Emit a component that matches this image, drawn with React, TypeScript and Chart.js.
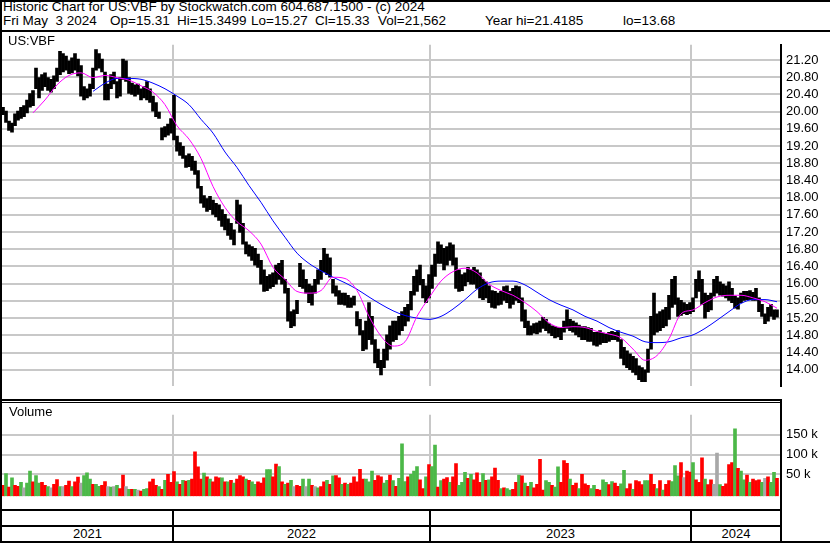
import React, { useEffect, useRef } from "react";
import { Chart, registerables } from "chart.js";

Chart.register(...registerables);

// ---------------- text ----------------
const TITLE = "Historic Chart for US:VBF by Stockwatch.com 604.687.1500 - (c) 2024";
const INFO_FIELDS = ["Fri May  3 2024", "Op=15.31", "Hi=15.3499", "Lo=15.27", "Cl=15.33", "Vol=21,562", "Year hi=21.4185", "lo=13.68"];
const SYMBOL = "US:VBF";
const VOLUME_TITLE = "Volume";
const YEARS = ["2021", "2022", "2023", "2024"];

// ---------------- time axis (chart-day index) ----------------
const YEAR_START_DAYS = [171, 428, 689];
const LAST_DAY = 779;
const SAMPLE_FIRST_DAY = 1;
const SAMPLE_STEP = 3;

// ---------------- axis ticks ----------------
const PRICE_TICKS = [14.0, 14.4, 14.8, 15.2, 15.6, 16.0, 16.4, 16.8, 17.2, 17.6, 18.0, 18.4, 18.8, 19.2, 19.6, 20.0, 20.4, 20.8, 21.2];
const VOLUME_TICKS = [50000, 100000, 150000];
const VOLUME_TICK_LABELS = ["50 k", "100 k", "150 k"];

// ---------------- price (3-day high / low) ----------------
const PRICE_HIGH = [
  20.10, 20.01, 19.78, 19.73, 19.95, 20.01, 20.10, 20.14, 20.27, 20.42,
  20.49, 21.01, 20.79, 20.86, 20.90, 20.79, 20.75, 20.83, 21.01, 21.40,
  21.35, 21.29, 21.18, 21.25, 21.35, 21.22, 21.07, 20.58, 20.53, 20.64,
  21.01, 21.44, 21.35, 21.22, 20.92, 20.64, 20.86, 20.92, 20.70, 20.79,
  21.22, 21.18, 20.79, 20.66, 20.62, 20.64, 20.53, 20.58, 20.70, 20.53,
  20.36, 20.21, 19.99, 19.62, 19.65, 19.71, 19.84, 20.38, 19.43, 19.28,
  19.19, 18.98, 19.02, 18.96, 18.85, 18.63, 18.26, 18.05, 17.98, 18.03,
  17.94, 17.87, 17.83, 17.72, 17.61, 17.51, 17.40, 17.25, 17.94, 17.83,
  17.40, 16.97, 16.90, 16.86, 16.82, 16.69, 16.54, 16.32, 16.17, 16.21,
  16.25, 16.43, 16.47, 16.54, 16.10, 15.89, 15.35, 15.39, 15.61, 16.47,
  16.32, 16.10, 15.99, 15.95, 16.10, 16.32, 16.54, 16.82, 16.69, 16.60,
  16.10, 15.95, 15.84, 15.78, 15.78, 15.73, 15.67, 15.71, 15.35, 15.17,
  14.91, 15.13, 15.56, 15.24, 14.70, 14.48, 14.22, 14.48, 14.81, 15.02,
  15.13, 15.13, 15.24, 15.35, 15.45, 15.52, 15.82, 16.17, 16.32, 16.43,
  16.10, 15.95, 16.21, 16.43, 16.69, 16.97, 16.90, 16.82, 16.86, 16.95,
  16.90, 16.60, 16.32, 16.21, 16.25, 16.38, 16.32, 16.38, 16.32, 16.25,
  16.10, 16.04, 15.95, 15.84, 15.82, 15.78, 15.82, 15.93, 15.95, 15.82,
  15.89, 15.95, 15.93, 15.67, 15.39, 15.13, 15.02, 15.07, 15.09, 15.13,
  15.22, 15.17, 15.07, 15.02, 15.00, 14.98, 14.96, 15.13, 15.39, 15.17,
  15.13, 15.09, 15.04, 15.00, 15.00, 14.98, 14.96, 14.87, 14.87, 14.91,
  14.85, 14.83, 14.87, 14.89, 14.87, 14.91, 14.70, 14.52, 14.44, 14.37,
  14.31, 14.26, 14.09, 14.05, 14.00, 14.48, 15.24, 15.78, 15.30, 15.35,
  15.39, 15.45, 15.73, 16.10, 16.17, 15.67, 15.61, 15.56, 15.52, 15.56,
  15.67, 16.10, 16.30, 16.10, 15.78, 15.73, 15.78, 16.10, 16.17, 16.04,
  15.99, 15.95, 16.04, 15.89, 15.71, 15.67, 15.78, 15.82, 15.82, 15.84,
  15.80, 15.89, 15.67, 15.52, 15.30, 15.45, 15.52, 15.39, 15.39
];
const PRICE_LOW = [
  19.93, 19.75, 19.56, 19.52, 19.67, 19.80, 19.84, 19.88, 19.97, 20.10,
  20.14, 20.53, 20.32, 20.49, 20.58, 20.49, 20.45, 20.53, 20.70, 20.86,
  20.92, 20.96, 20.88, 20.90, 20.96, 20.83, 20.36, 20.27, 20.32, 20.36,
  20.53, 20.96, 21.01, 20.92, 20.27, 20.27, 20.53, 20.64, 20.32, 20.36,
  20.75, 20.70, 20.42, 20.40, 20.36, 20.40, 20.27, 20.32, 20.27, 20.21,
  20.01, 19.88, 19.84, 19.34, 19.41, 19.45, 19.50, 19.34, 19.08, 18.98,
  18.91, 18.70, 18.72, 18.63, 18.54, 18.22, 17.87, 17.77, 17.68, 17.72,
  17.61, 17.55, 17.47, 17.33, 17.25, 17.12, 17.03, 16.90, 17.40, 17.19,
  16.92, 16.69, 16.64, 16.54, 16.43, 16.38, 15.99, 15.82, 15.84, 15.89,
  15.93, 15.99, 16.10, 15.99, 15.78, 15.13, 14.98, 15.02, 15.30, 15.93,
  15.89, 15.78, 15.56, 15.50, 15.78, 15.99, 16.10, 16.28, 16.21, 16.15,
  15.78, 15.71, 15.52, 15.52, 15.50, 15.45, 15.45, 15.50, 15.02, 14.81,
  14.44, 14.48, 14.70, 14.59, 14.16, 14.05, 13.88, 14.05, 14.22, 14.48,
  14.66, 14.70, 14.81, 14.91, 15.02, 15.13, 15.39, 15.73, 15.82, 15.97,
  15.67, 15.56, 15.67, 15.89, 16.17, 16.47, 16.47, 16.32, 16.43, 16.54,
  16.43, 15.89, 15.82, 15.84, 15.95, 16.04, 15.99, 15.99, 15.89, 15.67,
  15.63, 15.67, 15.56, 15.45, 15.43, 15.50, 15.52, 15.61, 15.56, 15.43,
  15.52, 15.61, 15.56, 15.13, 14.98, 14.81, 14.81, 14.85, 14.83, 14.87,
  14.96, 14.91, 14.85, 14.79, 14.74, 14.76, 14.70, 14.87, 14.96, 14.91,
  14.87, 14.81, 14.76, 14.70, 14.70, 14.66, 14.66, 14.57, 14.55, 14.59,
  14.63, 14.63, 14.66, 14.70, 14.70, 14.66, 14.26, 14.11, 14.05, 14.00,
  13.94, 13.88, 13.77, 13.72, 13.72, 13.94, 14.48, 14.81, 14.87, 14.91,
  14.98, 15.02, 15.17, 15.45, 15.52, 15.24, 15.26, 15.30, 15.28, 15.30,
  15.35, 15.67, 15.82, 15.52, 15.20, 15.35, 15.39, 15.71, 15.78, 15.73,
  15.71, 15.67, 15.61, 15.56, 15.43, 15.41, 15.56, 15.61, 15.63, 15.63,
  15.61, 15.61, 15.35, 15.24, 15.07, 15.13, 15.24, 15.17, 15.22
];

// ---------------- moving averages (every 12 days) ----------------
const MA_STEP = 12;
const MA_SHORT_FIRST_DAY = 31;
const MA_SHORT = [
  19.97, 20.27, 20.62, 20.84, 20.90, 20.79, 20.84, 20.79, 20.73, 20.60,
  20.45, 20.16, 19.67, 19.36, 18.91, 18.26, 17.77, 17.44, 17.23, 16.92,
  16.38, 16.10, 15.82, 15.78, 15.84, 16.15, 16.12, 15.84, 15.24, 14.78,
  14.55, 14.65, 15.24, 15.67, 16.06, 16.28, 16.36, 16.25, 15.99, 15.84,
  15.73, 15.56, 15.35, 15.09, 14.98, 15.00, 14.98, 14.89, 14.83, 14.74,
  14.48, 14.22, 14.33, 14.72, 15.30, 15.39, 15.56, 15.69, 15.73, 15.73,
  15.67, 15.58, 15.43
];
const MA_LONG_FIRST_DAY = 91;
const MA_LONG = [
  20.47, 20.66, 20.77, 20.77, 20.75, 20.66, 20.53, 20.36, 20.16, 19.82,
  19.50, 19.06, 18.70, 18.28, 17.89, 17.46, 17.08, 16.71, 16.47, 16.30,
  16.15, 16.02, 15.87, 15.69, 15.52, 15.37, 15.26, 15.20, 15.17, 15.24,
  15.41, 15.63, 15.87, 16.02, 16.06, 16.06, 15.97, 15.80, 15.63, 15.50,
  15.39, 15.24, 15.13, 14.98, 14.87, 14.78, 14.65, 14.63, 14.65, 14.74,
  14.81, 14.96, 15.15, 15.35, 15.54, 15.63, 15.63, 15.58
];

// ---------------- volume (thousands, 3-day samples) ----------------
const VOLUME_K = [
  22, 52, 18, 41, 22, 20, 30, 16, 28, 58,
  31, 47, 28, 30, 22, 19, 16, 25, 37, 19,
  19, 22, 33, 19, 31, 43, 28, 47, 54, 38,
  25, 25, 20, 22, 32, 19, 18, 19, 22, 14,
  48, 19, 12, 12, 12, 10, 8, 12, 14, 31,
  38, 22, 19, 12, 35, 50, 30, 57, 31, 25,
  35, 33, 35, 38, 107, 69, 38, 53, 44, 38,
  31, 44, 41, 41, 31, 31, 35, 28, 38, 47,
  44, 38, 35, 31, 25, 31, 28, 41, 62, 62,
  44, 76, 70, 31, 25, 28, 35, 19, 22, 20,
  38, 19, 38, 22, 19, 16, 19, 31, 35, 25,
  46, 47, 41, 25, 28, 25, 28, 44, 31, 63,
  38, 38, 31, 58, 35, 47, 44, 28, 35, 48,
  34, 20, 40, 127, 32, 44, 50, 58, 70, 36,
  14, 44, 75, 70, 124, 18, 34, 38, 42, 30,
  44, 77, 22, 30, 55, 40, 50, 36, 54, 30,
  52, 35, 36, 44, 66, 35, 14, 16, 14, 10,
  12, 30, 48, 46, 28, 20, 30, 16, 25, 88,
  10, 34, 30, 22, 18, 69, 30, 85, 78, 38,
  22, 28, 14, 50, 26, 22, 14, 22, 12, 10,
  36, 30, 24, 32, 28, 20, 26, 60, 14, 26,
  12, 34, 32, 24, 34, 34, 50, 25, 14, 34,
  10, 25, 34, 32, 72, 46, 80, 42, 58, 56,
  80, 36, 30, 92, 38, 24, 36, 25, 104, 24,
  20, 26, 75, 80, 165, 65, 58, 36, 48, 30,
  38, 34, 36, 30, 40, 44, 30, 55, 40
];
// r = down day, g = up day, n = unchanged
const VOLUME_DIR = [
  "rgrgrrgngg", "rggrrgnrrg", "nrrgrrnggg", "rggrrngngr", "rngrgnrggr",
  "rrgrgrrrgr", "grgrrrrgrg", "rrrgrgrgrr", "rgrggrrrgg", "rrgrgrgnrr",
  "gngrngrrgr", "grrgrgrrrr", "rgggrrrggr", "grgggrgggr", "rgrggrgrrg",
  "rrgggrgrrr", "grgrrrgrgg", "rrgrgrgrrr", "rggrggrrrg", "rrgrrrggrr",
  "ggrgrrggrr", "grrrggrrgr", "grrgggrnrr", "grrrgrrnng", "rrrrgrggrg",
  "rrrgnrggr"
].join("");

const PRICE_MIN = 13.617;
const PRICE_MAX = 21.552;
const VOLUME_MIN = -5200;
const VOLUME_MAX = 200600;

const FONT = "'Liberation Sans', Arial, Helvetica, sans-serif";
const GRID = "#c8c8c8";
const DIR_COLORS: Record<string, string> = { r: "#ff0000", g: "#4cb848", n: "#a8a8a8" };

const dayOf = (i: number) => SAMPLE_FIRST_DAY + i * SAMPLE_STEP;

function xScale() {
  return {
    type: "linear" as const,
    min: 0,
    max: LAST_DAY,
    offset: false,
    grid: { color: GRID, lineWidth: 2, drawTicks: false, offset: false },
    border: { display: false },
    ticks: { display: false },
    afterBuildTicks: (s: any) => {
      s.ticks = YEAR_START_DAYS.map((v) => ({ value: v }));
    },
    afterFit: (s: any) => {
      s.height = 0;
    },
  };
}

export default function App() {
  const priceRef = useRef<HTMLCanvasElement>(null);
  const volRef = useRef<HTMLCanvasElement>(null);

  useEffect(() => {
    document.body.style.margin = "0";
    Chart.defaults.font.family = FONT;
    Chart.defaults.font.size = 13;
    Chart.defaults.color = "#000";

    const priceChart = new Chart(priceRef.current as HTMLCanvasElement, {
      type: "bar",
      data: {
        datasets: [
          {
            type: "line",
            data: MA_SHORT.map((v, i) => ({ x: MA_SHORT_FIRST_DAY + i * MA_STEP, y: v })),
            borderColor: "#ff00ff",
            borderWidth: 1,
            pointRadius: 0,
            cubicInterpolationMode: "monotone",
            order: 0,
          } as any,
          {
            type: "line",
            data: MA_LONG.map((v, i) => ({ x: MA_LONG_FIRST_DAY + i * MA_STEP, y: v })),
            borderColor: "#0000ff",
            borderWidth: 1,
            pointRadius: 0,
            cubicInterpolationMode: "monotone",
            order: 0,
          } as any,
          {
            type: "bar",
            data: PRICE_HIGH.map((h, i) => ({ x: dayOf(i), y: [PRICE_LOW[i], h] })),
            backgroundColor: "#000000",
            barThickness: 3,
            order: 1,
          } as any,
        ],
      },
      options: {
        responsive: false,
        animation: false,
        events: [],
        layout: { padding: 0 },
        plugins: { legend: { display: false }, tooltip: { enabled: false } },
        scales: {
          x: xScale() as any,
          y: {
            type: "linear",
            position: "right",
            min: PRICE_MIN,
            max: PRICE_MAX,
            grid: { color: GRID, lineWidth: 2, drawTicks: false },
            border: { display: true, color: "#000", width: 2 },
            ticks: {
              padding: 5,
              color: "#000",
              font: { size: 13, family: FONT },
              callback: (v: any) => Number(v).toFixed(2),
            },
            afterBuildTicks: (s: any) => {
              s.ticks = PRICE_TICKS.map((v) => ({ value: v }));
            },
            afterFit: (s: any) => {
              s.width = 49;
            },
          } as any,
        },
      },
    });

    const volChart = new Chart(volRef.current as HTMLCanvasElement, {
      type: "bar",
      data: {
        datasets: [
          {
            data: VOLUME_K.map((v, i) => ({ x: dayOf(i), y: v * 1000 })),
            backgroundColor: VOLUME_K.map((_, i) => DIR_COLORS[VOLUME_DIR[i]] || DIR_COLORS.n),
            barThickness: 3,
            base: VOLUME_MIN,
          } as any,
        ],
      },
      options: {
        responsive: false,
        animation: false,
        events: [],
        layout: { padding: 0 },
        plugins: { legend: { display: false }, tooltip: { enabled: false } },
        scales: {
          x: xScale() as any,
          y: {
            type: "linear",
            position: "right",
            min: VOLUME_MIN,
            max: VOLUME_MAX,
            grid: { color: GRID, lineWidth: 2, drawTicks: false },
            border: { display: true, color: "#000", width: 2 },
            ticks: {
              padding: 5,
              color: "#000",
              font: { size: 13, family: FONT },
              callback: (v: any) => {
                const k = VOLUME_TICKS.indexOf(Number(v));
                return k >= 0 ? VOLUME_TICK_LABELS[k] : "";
              },
            },
            afterBuildTicks: (s: any) => {
              s.ticks = VOLUME_TICKS.map((v) => ({ value: v }));
            },
            afterFit: (s: any) => {
              s.width = 49;
            },
          } as any,
        },
      },
    });

    return () => {
      priceChart.destroy();
      volChart.destroy();
    };
  }, []);

  const infoX = [3, 110, 177, 251, 315, 378, 485, 623];
  const yearBounds = [2, 173, 430, 691, 781];
  const line = (left: number, top: number, width: number, height: number, key: string) => (
    <div key={key} style={{ position: "absolute", left, top, width, height, background: "#000" }} />
  );

  return (
    <div
      style={{
        position: "fixed",
        left: 0,
        top: 0,
        width: 830,
        height: 543,
        background: "#fff",
        fontFamily: FONT,
        fontSize: 13,
        color: "#000",
        overflow: "hidden",
      }}
    >
      <canvas ref={priceRef} width={828} height={367} style={{ position: "absolute", left: 2, top: 32 }} />
      <canvas ref={volRef} width={828} height={107} style={{ position: "absolute", left: 2, top: 402 }} />

      <div style={{ position: "absolute", left: 3, top: 0, fontSize: 13.5, lineHeight: "14px", whiteSpace: "pre" }}>{TITLE}</div>
      {INFO_FIELDS.map((t, i) => (
        <div
          key={"f" + i}
          style={{ position: "absolute", left: infoX[i], top: 14, fontSize: 13.5, lineHeight: "14px", whiteSpace: "pre" }}
        >
          {t}
        </div>
      ))}
      <div style={{ position: "absolute", left: 8, top: 34, lineHeight: "14px" }}>{SYMBOL}</div>
      <div style={{ position: "absolute", left: 9, top: 405, lineHeight: "14px" }}>{VOLUME_TITLE}</div>

      {YEARS.map((y, i) => (
        <div
          key={y}
          style={{
            position: "absolute",
            left: yearBounds[i],
            width: yearBounds[i + 1] - yearBounds[i],
            top: 527,
            lineHeight: "14px",
            textAlign: "center",
          }}
        >
          {y}
        </div>
      ))}

      {line(0, 0, 830, 2, "top")}
      {line(0, 30, 830, 2, "hdr")}
      {line(0, 0, 2, 543, "left")}
      {line(0, 399, 781, 2, "sep1")}
      {line(0, 402, 781, 1, "sep2")}
      {line(0, 509, 781, 2, "vb")}
      {line(0, 525, 781, 2, "yr")}
      {line(0, 541, 830, 2, "bottom")}
      {line(780, 399, 2, 144, "rax")}
      {[173, 430, 691].map((x) => line(x - 1, 509, 2, 34, "d" + x))}
    </div>
  );
}
